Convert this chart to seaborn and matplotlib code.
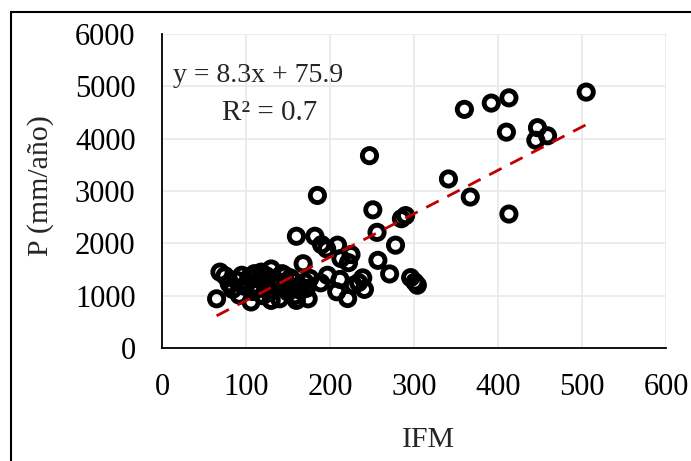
import matplotlib
matplotlib.use("Agg")
import matplotlib.pyplot as plt
from matplotlib.patches import Rectangle
import seaborn as sns
import numpy as np
import pandas as pd

# IFM vs P (mm/año)
ifm = [65, 69, 75, 80, 84, 88, 92, 95, 98, 102, 104, 106, 108, 110, 112, 114,
       116, 118, 120, 122, 124, 126, 128, 130, 130, 133, 136, 138, 140, 143,
       146, 148, 150, 153, 156, 158, 160, 162, 165, 168, 170, 172, 174, 176,
       160, 182, 185, 190, 196, 209, 225, 213, 222, 197, 189, 212, 208, 221,
       234, 239, 241, 228,
       247, 251, 256, 257, 271, 278, 285, 290, 296, 301, 304, 341, 360, 367,
       392, 410, 413, 413, 445, 447, 459, 505]
precip = [940, 1450, 1380, 1230, 1120, 1300, 1010, 1390, 1180, 1260, 1350, 880,
          1080, 1420, 1200, 1130, 1310, 1450, 1000, 1260, 1380, 1150, 1060, 1510,
          910, 1330, 1280, 1180, 940, 1420, 1390, 1240, 1070, 1340, 1290, 1000,
          910, 1180, 1100, 1610, 1260, 1140, 940, 1330,
          2135, 2135, 2915, 1975, 1895, 1965, 1785, 1710, 1630, 1390, 1245, 1310,
          1075, 945, 1250, 1340, 1120, 1200,
          3675, 2640, 2210, 1675, 1415, 1965, 2470, 2530, 1345, 1260, 1200, 3230,
          4560, 2885, 4680, 4125, 4780, 2560, 3970, 4210, 4055, 4890]

slope = 8.3
intercept = 75.9
r2 = 0.7

x_ticks = [0, 100, 200, 300, 400, 500, 600]
y_ticks = [0, 1000, 2000, 3000, 4000, 5000, 6000]

df = pd.DataFrame({"IFM": ifm, "P": precip})

sns.set_style("white")
plt.rcParams["font.family"] = ["Liberation Serif", "DejaVu Serif"]

fig = plt.figure(figsize=(6.91, 4.61), dpi=100)
ax = fig.add_axes([162 / 691, 1 - 348 / 461, 504 / 691, 314 / 461])

sns.scatterplot(data=df, x="IFM", y="P", ax=ax, marker="o", s=105,
                facecolor="none", edgecolor="black", linewidths=3.5, zorder=3)

xl = np.array([min(ifm), max(ifm)])
ax.plot(xl, slope * xl + intercept, color="#C00000", lw=2.0,
        dashes=(5, 3.5), zorder=4)

ax.set_xlim(0, 600)
ax.set_ylim(0, 6000)
ax.set_xticks(x_ticks)
ax.set_yticks(y_ticks)
ax.grid(True, color="#EBEBEB", lw=1.3)
ax.set_axisbelow(True)
for side in ["top", "right"]:
    ax.spines[side].set_visible(False)
for side in ["left", "bottom"]:
    ax.spines[side].set_color("black")
    ax.spines[side].set_linewidth(1.3)
ax.tick_params(length=0, labelsize=22, colors="black")
ax.tick_params(axis="y", pad=19)
ax.tick_params(axis="x", pad=18)

ax.set_xlabel("IFM", fontsize=21.5, va="center")
ax.xaxis.set_label_coords(0.528, -0.293)
ax.set_ylabel("P (mm/año)", fontsize=21.5, va="center")
ax.yaxis.set_label_coords(-0.241, 0.516)

ax.text((258 - 162) / 504, (348 - 76) / 314,
        f"y = {slope}x + {intercept}", transform=ax.transAxes,
        ha="center", va="center", fontsize=20)
ax.text((270 - 162) / 504, (348 - 113) / 314,
        f"R² = {r2}", transform=ax.transAxes,
        ha="center", va="center", fontsize=21)

# outer frame (only top/left edges visible in the crop)
fig.add_artist(Rectangle((11 / 691, -0.2), 1.2, 1.2 - 12 / 461,
                         transform=fig.transFigure, fill=False,
                         edgecolor="black", lw=1.5, clip_on=False))

fig.savefig("out.png", dpi=100)
